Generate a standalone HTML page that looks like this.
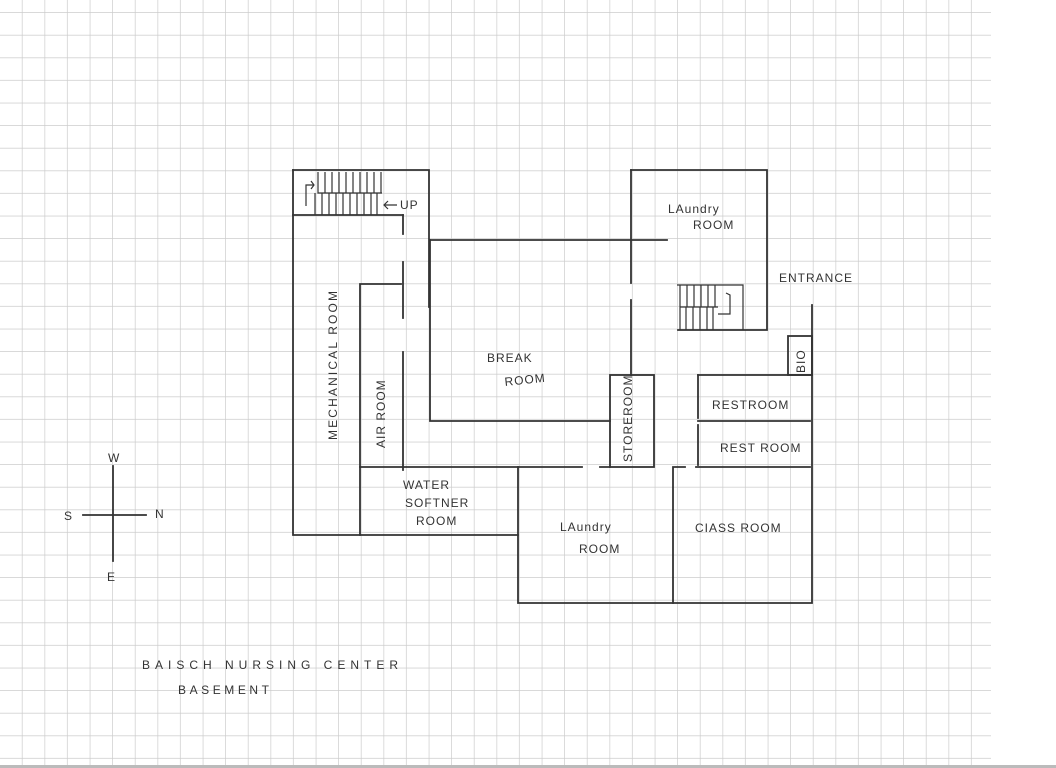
<!DOCTYPE html>
<html><head><meta charset="utf-8"><style>
html,body{margin:0;padding:0;background:#fff}
svg{display:block}
text{font-family:"Liberation Sans",sans-serif;fill:#333;font-size:12px;letter-spacing:1px}
</style></head><body>
<svg width="1056" height="768" viewBox="0 0 1056 768" xmlns="http://www.w3.org/2000/svg">
<defs>
<pattern id="g" x="0" y="13" width="22.6" height="22.6" patternUnits="userSpaceOnUse">
<path d="M22.6 0V22.6M0 22.6H22.6" stroke="#cccccc" stroke-width="1.4" fill="none"/>
</pattern>
</defs>
<rect x="0" y="0" width="991" height="768" fill="url(#g)"/>
<rect x="0" y="765" width="1056" height="3" fill="#bbb"/>
<g stroke="#333" stroke-width="1.8" fill="none" stroke-linecap="square">
<path d="M293 170H429V307"/>
<path d="M293 170V535H518"/>
<path d="M293 215H403"/>
<path d="M403 215V234M403 262V318M403 352V470"/>
<path d="M360 535V284H401"/>
<path d="M430 240V421H610"/>
<path d="M430 240H667"/>
<path d="M631 170V283M631 300V375"/>
<path d="M631 170H767V330H678"/>
<path d="M360 467H582M600 467H610"/>
<rect x="610" y="375" width="44" height="92"/>
<path d="M518 467V603H812V305"/>
<path d="M673 467V603M673 467H685"/>
<path d="M698 375H812M698 421H810M696 467H810"/>
<path d="M698 375V418M698 425V465"/>
<rect x="788" y="336" width="24" height="39"/>
<path d="M83 515H146M113 466V561"/>
</g>
<g stroke="#333" stroke-width="1.2" fill="none">
<path d="M318 172V193H382M315 193V215"/>
<path d="M325 172V193M332 172V193M339 172V193M346 172V193M353 172V193M360 172V193M367 172V193M374 172V193M381 172V193"/>
<path d="M322 193V215M329 193V215M336 193V215M343 193V215M350 193V215M357 193V215M364 193V215M371 193V215M377 193V215"/>
<path d="M306 206V185H314M311 181L314 185L311 189"/>
<path d="M384 205H397M388 201L384 205L388 209"/>
<path d="M677 285H743V330M680 285V330M680 307H718"/>
<path d="M687 285V307M694 285V307M701 285V307M708 285V307M715 285V307"/>
<path d="M686 307V330M693 307V330M700 307V330M707 307V330M713 307V330"/>
<path d="M718 314H730V295L726 293"/>
</g>
<text x="400" y="209" font-size="11">UP</text>
<text x="668" y="213">LAundry</text>
<text x="693" y="229">ROOM</text>
<text x="779" y="282" font-size="11">ENTRANCE</text>
<text x="487" y="362" font-size="13">BREAK</text>
<text x="505" y="386" font-size="12" transform="rotate(-6 505 386)">ROOM</text>
<text x="712" y="409" font-size="11">RESTROOM</text>
<text x="720" y="452" font-size="11">REST ROOM</text>
<text x="695" y="532" font-size="13">CIASS ROOM</text>
<text x="560" y="531" font-size="12">LAundry</text>
<text x="579" y="553" font-size="12">ROOM</text>
<text x="403" y="489" font-size="11">WATER</text>
<text x="405" y="507" font-size="11">SOFTNER</text>
<text x="416" y="525" font-size="11">ROOM</text>
<text transform="translate(337 440) rotate(-90)" font-size="13" textLength="150">MECHANICAL  ROOM</text>
<text transform="translate(385 448) rotate(-90)" font-size="13">AIR  ROOM</text>
<text transform="translate(632 462) rotate(-90)" font-size="11">STOREROOM</text>
<text transform="translate(805 373) rotate(-90)" font-size="11">BIO</text>
<text x="108" y="462" font-size="11">W</text>
<text x="64" y="520" font-size="12">S</text>
<text x="155" y="518" font-size="11">N</text>
<text x="107" y="581" font-size="12">E</text>
<text x="142" y="669" font-size="15" textLength="257" lengthAdjust="spacing">BAISCH   NURSING   CENTER</text>
<text x="178" y="694" font-size="13" textLength="92" lengthAdjust="spacing">BASEMENT</text>
</svg>
</body></html>
